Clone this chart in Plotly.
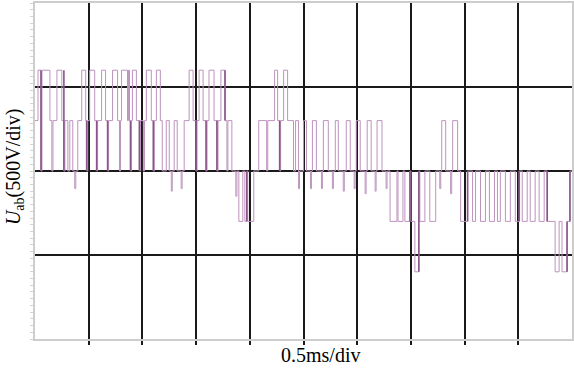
import plotly.graph_objects as go

# Switching instants (ms) and line voltage level (V) held from each instant on
t_ms = [0.000, 0.028, 0.056, 0.065, 0.139, 0.157, 0.167, 0.204, 0.250, 0.269,
        0.278, 0.306, 0.324, 0.352, 0.370, 0.380, 0.398, 0.435, 0.472, 0.481,
        0.491, 0.509, 0.556, 0.574, 0.583, 0.620, 0.657, 0.676, 0.685, 0.722,
        0.769, 0.787, 0.796, 0.806, 0.861, 0.870, 0.880, 0.889, 0.898, 0.907,
        0.944, 0.972, 0.981, 1.009, 1.019, 1.037, 1.083, 1.102, 1.111, 1.130,
        1.167, 1.185, 1.222, 1.250, 1.269, 1.278, 1.296, 1.324, 1.361, 1.370,
        1.389, 1.435, 1.472, 1.500, 1.509, 1.528, 1.565, 1.593, 1.602, 1.620,
        1.667, 1.694, 1.704, 1.731, 1.769, 1.787, 1.796, 1.833, 1.870, 1.880,
        1.898, 1.935, 1.954, 1.972, 1.981, 2.037, 2.083, 2.157, 2.167, 2.231,
        2.259, 2.278, 2.287, 2.315, 2.352, 2.407, 2.426, 2.454, 2.463, 2.500,
        2.528, 2.565, 2.574, 2.583, 2.620, 2.667, 2.676, 2.685, 2.731, 2.769,
        2.778, 2.796, 2.824, 2.870, 2.880, 2.898, 2.935, 2.972, 2.981, 2.991,
        3.028, 3.074, 3.083, 3.093, 3.130, 3.167, 3.176, 3.185, 3.231, 3.269,
        3.278, 3.306, 3.370, 3.380, 3.426, 3.444, 3.491, 3.500, 3.537, 3.574,
        3.583, 3.630, 3.676, 3.731, 3.769, 3.778, 3.787, 3.824, 3.870, 3.880,
        3.889, 3.935, 3.963, 4.028, 4.074, 4.102, 4.148, 4.194, 4.231, 4.278,
        4.306, 4.333, 4.380, 4.426, 4.472, 4.509, 4.537, 4.583, 4.611, 4.657,
        4.694, 4.741, 4.769, 4.843, 4.880, 4.907, 4.954, 4.981, 5.000]

u_volts = [300, 600, 0, 600, 300, 0, 300, 600, 300, 0,
           300, 0, 300, 0, -105, 0, 300, 600, 300, 0,
           300, 600, 300, 0, 300, 600, 300, 0, 300, 600,
           300, 0, 300, 600, 300, 600, 300, 0, 300, 600,
           300, 0, 300, 0, 300, 600, 300, 0, 300, 600,
           300, 0, 300, 0, -120, 0, 300, 0, -105, 0,
           300, 600, 300, 0, 300, 600, 300, 0, 300, 600,
           300, 0, 300, 600, 300, 0, 300, 0, -150, 0,
           -300, 0, -300, 0, -300, 0, 300, 0, 300, 600,
           300, 0, 300, 600, 300, 0, 300, -105, 0, 300,
           0, -105, 0, 300, 0, -105, 0, 300, 0, -105,
           0, 300, 0, -120, 0, 300, 0, -105, 0, 300,
           0, -135, 0, 300, 0, -120, 0, 300, 0, -105,
           0, -300, 0, -300, 0, -300, 0, -300, -600, 0,
           -300, 0, -300, 0, -105, 0, 300, 0, -135, 0,
           300, 0, -300, 0, -300, 0, -300, 0, -300, 0,
           -300, 0, -300, 0, -300, 0, -300, 0, -300, 0,
           -300, 0, -300, -600, -300, -600, -300, 0, 0]

assert len(t_ms) == len(u_volts)

# Edges where the second (darker) channel shows clearly: time, low and high level
dark_t = [0.056, 0.269, 0.481, 0.574, 0.676, 0.889, 0.972, 1.102, 1.500,
          1.593, 1.694, 1.769, 1.972, 2.278, 3.491, 3.574, 4.028, 4.509,
          4.769, 4.954, 4.981]
dark_lo = [0, 0, 0, 0, 0, 0, 0, 0, 0,
           0, 0, 300, -300, 0, -300, -600, -300, -300,
           -300, -600, -300]
dark_hi = [600, 600, 300, 300, 300, 300, 300, 300, 300,
           300, 300, 600, 0, 300, 0, 0, 0, 0,
           0, -300, 0]

x_grid = [0.5, 1.0, 1.5, 2.0, 2.5, 3.0, 3.5, 4.0, 4.5]
y_grid = [-500, 0, 500]

fig = go.Figure()
fig.add_trace(go.Scatter(
    x=t_ms, y=u_volts, mode="lines",
    line=dict(color="#bd93bd", width=1.0, shape="hv"),
    hoverinfo="skip"))

dx, dy = [], []
for t, lo, hi in zip(dark_t, dark_lo, dark_hi):
    dx += [t, t, None]
    dy += [lo, hi, None]
fig.add_trace(go.Scatter(
    x=dx, y=dy, mode="lines",
    line=dict(color="#8a558a", width=1.6),
    hoverinfo="skip"))

fig.update_layout(
    width=574, height=369,
    margin=dict(l=35, r=0, t=3, b=30),
    plot_bgcolor="white", paper_bgcolor="white",
    showlegend=False,
    font=dict(family="Liberation Serif", color="black"),
)
fig.update_xaxes(
    range=[0, 5], tickvals=x_grid, showticklabels=False,
    showgrid=True, gridcolor="#1a1a1a", gridwidth=1.5,
    ticks="outside", ticklen=4, tickcolor="#1a1a1a", tickwidth=1.5,
    showline=True, linecolor="#cdcdcd", linewidth=2, mirror=True,
    zeroline=False,
)
fig.update_yaxes(
    range=[-1000, 1000], tickvals=y_grid, showticklabels=False,
    showgrid=True, gridcolor="#1a1a1a", gridwidth=1.5,
    ticks="", showline=True, linecolor="#cdcdcd", linewidth=2, mirror=True,
    zeroline=False,
    minor=dict(ticks="outside", dtick=40, ticklen=3, tickcolor="#d3d3d3",
               showgrid=False),
)

fig.add_annotation(
    text="0.5ms/div", xref="paper", yref="paper", x=0.531, y=-0.048,
    xanchor="center", yanchor="middle", showarrow=False,
    font=dict(family="Liberation Serif", size=20, color="black"))
fig.add_annotation(
    text="<i>U</i><sub>ab</sub>(500V/div)", xref="paper", yref="paper",
    x=-0.037, y=0.512, xanchor="center", yanchor="middle", textangle=-90,
    showarrow=False,
    font=dict(family="Liberation Serif", size=20, color="black"))

fig.write_html("out.html")
